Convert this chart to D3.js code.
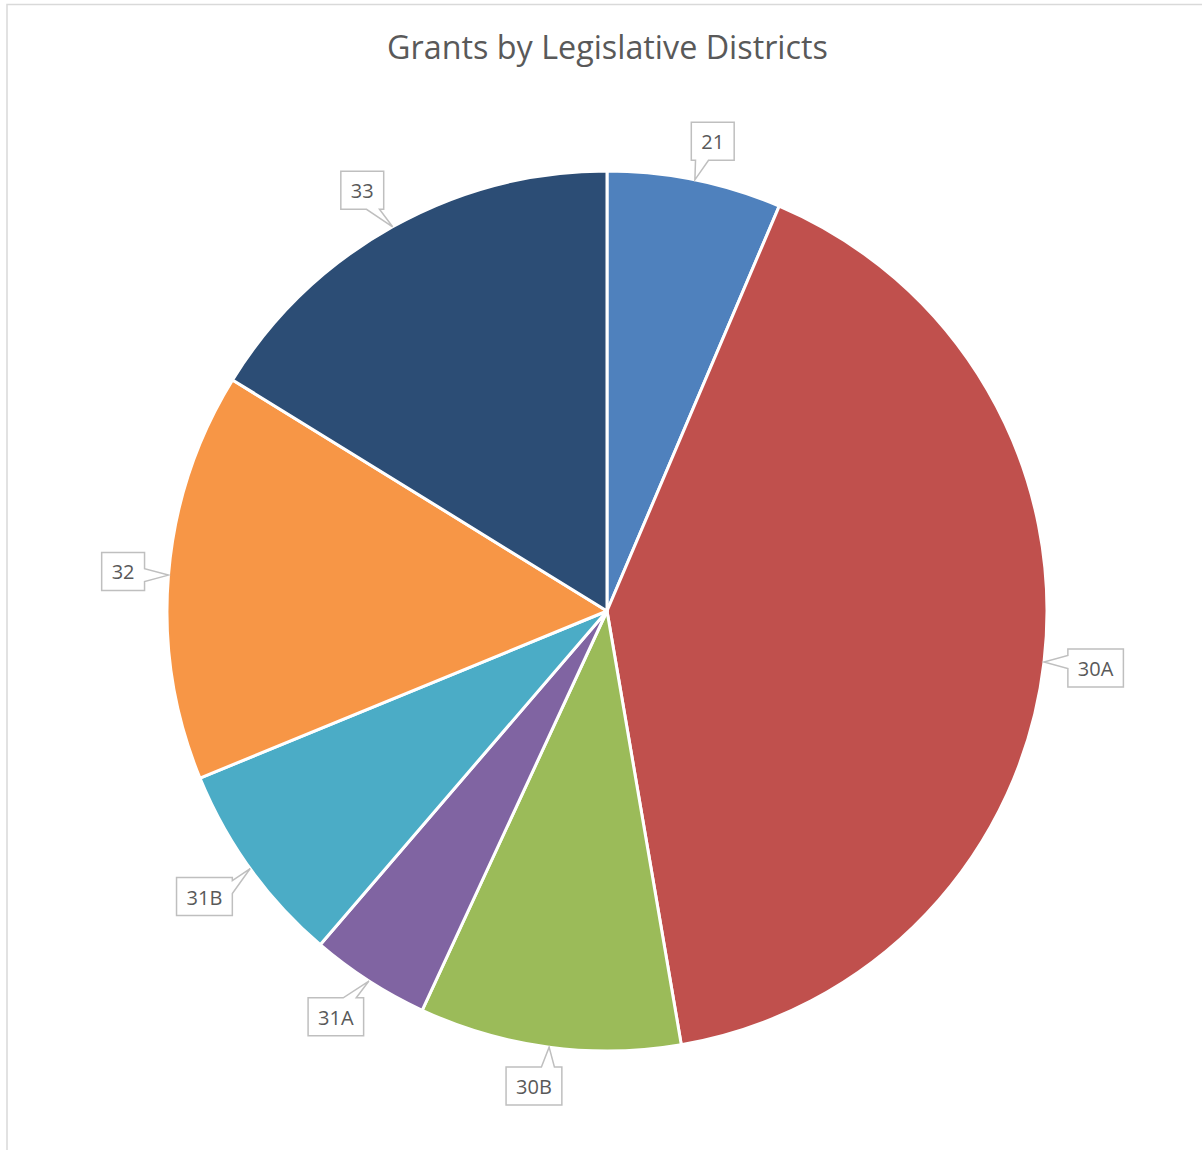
<!DOCTYPE html>
<html>
<head>
<meta charset="utf-8">
<script src="https://cdn.jsdelivr.net/npm/d3@7"></script>
<style>
  html, body { margin: 0; padding: 0; background: #fff; }
  svg { display: block; }
</style>
</head>
<body>
<svg id="chart" width="1202" height="1150"></svg>
<script>
// ---- data ----
const title = "Grants by Legislative Districts";
const categories = ["21", "30A", "30B", "31A", "31B", "32", "33"];
const values = [6.4, 40.9, 9.6, 4.4, 7.5, 15.0, 16.2];
const colors = ["#4F81BD", "#C0504D", "#9BBB59", "#8064A2", "#4BACC6", "#F79646", "#2C4D75"];

// ---- layout ----
const W = 1202, H = 1150;
const cx = 607, cy = 611, R = 440;
const fontFamily = "'Open Sans', 'Noto Sans', sans-serif";
const textColor = "#595959";

const svg = d3.select("#chart");

// chart area border (left and top visible)
svg.append("rect")
  .attr("x", 7).attr("y", 4.5)
  .attr("width", W + 20).attr("height", H + 20)
  .attr("fill", "#fff")
  .attr("stroke", "#d9d9d9").attr("stroke-width", 1.5);

// title fitted to reference width
const titleEl = svg.append("text")
  .attr("x", 607.5).attr("y", 59)
  .attr("text-anchor", "middle")
  .attr("font-family", fontFamily)
  .attr("font-size", 100)
  .attr("fill", textColor)
  .text(title);
const tw = titleEl.node().getComputedTextLength();
titleEl.attr("font-size", 100 * 441 / tw);

// pie
const data = categories.map((c, i) => ({ cat: c, value: values[i], color: colors[i] }));
const pie = d3.pie().sort(null).value(d => d.value);
const arcs = pie(data);
const arc = d3.arc().innerRadius(0).outerRadius(R);

const g = svg.append("g").attr("transform", `translate(${cx},${cy})`);
g.selectAll("path.slice")
  .data(arcs)
  .join("path")
  .attr("class", "slice")
  .attr("d", arc)
  .attr("fill", d => d.data.color)
  .attr("stroke", "#fff")
  .attr("stroke-width", 3)
  .attr("stroke-linejoin", "round");

// callout labels
const labelSize = 20;
const padX = 10, boxH = 38, sideShift = 10;
const clamp = (v, a, b) => Math.max(a, Math.min(b, v));

function calloutPath(x0, y0, x1, y1, tx, ty) {
  const bw = x1 - x0, bh = y1 - y0;
  const mx = (x0 + x1) / 2, my = (y0 + y1) / 2;
  const nx = (tx - mx) / (bw / 2), ny = (ty - my) / (bh / 2);
  const hb = 6.5;
  let side;
  if (Math.abs(nx) > Math.abs(ny)) side = nx > 0 ? "right" : "left";
  else side = ny > 0 ? "bottom" : "top";
  const p = [];
  const baseX = clamp(mx + clamp(tx - mx, -bw / 4, bw / 4), x0 + hb, x1 - hb);
  const baseY = clamp(my + clamp(ty - my, -bh / 4, bh / 4), y0 + hb, y1 - hb);
  p.push([x0, y0]);
  if (side === "top") p.push([baseX - hb, y0], [tx, ty], [baseX + hb, y0]);
  p.push([x1, y0]);
  if (side === "right") p.push([x1, baseY - hb], [tx, ty], [x1, baseY + hb]);
  p.push([x1, y1]);
  if (side === "bottom") p.push([baseX + hb, y1], [tx, ty], [baseX - hb, y1]);
  p.push([x0, y1]);
  if (side === "left") p.push([x0, baseY + hb], [tx, ty], [x0, baseY - hb]);
  return "M" + p.map(q => q.join(",")).join("L") + "Z";
}

const labels = svg.append("g");
arcs.forEach(d => {
  const a = (d.startAngle + d.endAngle) / 2;
  const sx = Math.sin(a), sy = -Math.cos(a);
  const tip = [cx + R * sx, cy + R * sy];
  const vertical = Math.abs(sy) > Math.abs(sx);

  const lg = labels.append("g");
  const path = lg.append("path");
  const t = lg.append("text")
    .attr("font-family", fontFamily)
    .attr("font-size", labelSize)
    .attr("fill", textColor)
    .attr("text-anchor", "middle")
    .attr("dominant-baseline", "central")
    .text(d.data.cat);
  const bw = t.node().getComputedTextLength() + 2 * padX;
  const bh = boxH;
  const hx = Math.abs(sx) > 1e-6 ? (bw / 2) / Math.abs(sx) : Infinity;
  const hy = Math.abs(sy) > 1e-6 ? (bh / 2) / Math.abs(sy) : Infinity;
  const half = Math.min(hx, hy);
  const gap = vertical ? 20 : 24;
  const dist = R + gap + half;
  let bx = cx + dist * sx, by = cy + dist * sy;
  if (vertical) bx += sideShift * Math.sign(sx);          // pointer on top/bottom edge
  else if (Math.abs(sy) > 0.4) by -= 5 * Math.sign(sy);   // diagonal side pointer
  t.attr("x", bx).attr("y", by + 0.5);
  path.attr("d", calloutPath(bx - bw / 2, by - bh / 2, bx + bw / 2, by + bh / 2, tip[0], tip[1]))
    .attr("fill", "#fff")
    .attr("stroke", "#bfbfbf")
    .attr("stroke-width", 1.5)
    .attr("stroke-linejoin", "miter");
});
</script>
</body>
</html>
